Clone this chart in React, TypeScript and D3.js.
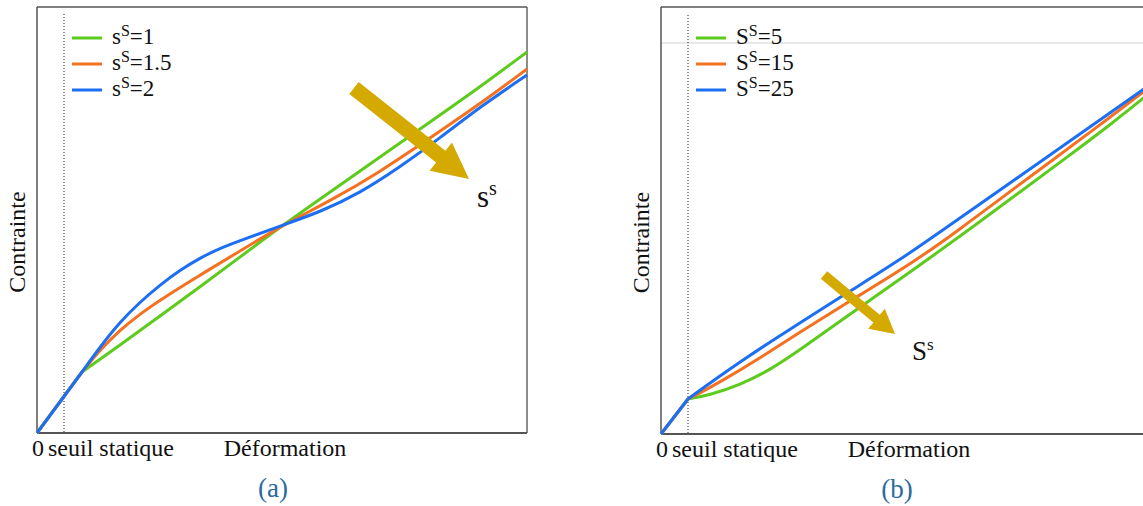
import React from "react";
import * as d3 from "d3";

type P = [number, number];

// Units: strain and stress in arbitrary units.
// Panel (a): first two points are the elastic branch (origin -> divergence), then each curve.
const aGreen: P[] = [[0,0],[45,61],[83,88],[123,117],[163,146],[203,176],[246,208],[293,241],[343,276],[393,311],[443,346],[490,381]];
const aOrange: P[] = [[0,0],[45,61],[63,83],[83,103],[103,119],[123,133],[163,158],[203,182],[246,208],[293,232],[343,261],[393,295],[443,329],[490,364]];
const aBlue: P[] = [[0,0],[45,61],[63,86],[83,111],[103,131],[123,148],[143,163],[163,175],[183,185],[213,196],[246,208],[283,221],[323,240],[363,266],[403,295],[443,326],[490,358]];
const aLabels = ["1", "1.5", "2"];

// Panel (b)
const bGreen: P[] = [[0,0],[27,35],[49,39],[79,49],[109,64],[139,84],[189,120],[239,155],[266,174],[309,205],[359,242],[409,279],[449,309],[490,342]];
const bOrange: P[] = [[0,0],[27,35],[39,41],[59,52],[96,74],[139,102],[189,133],[256,174],[299,205],[339,235],[389,272],[439,309],[490,348]];
const bBlue: P[] = [[0,0],[27,35],[39,44],[59,58],[79,72],[109,92],[139,111],[189,143],[239,174],[289,209],[339,244],[389,279],[439,314],[490,350]];
const bLabels = ["5", "15", "25"];

const threshold = 27;
const colors = ["#5ccb1c", "#f5701f", "#1c6ff2"];
const arrowColor = "#d4aa00";
const serif = "'Liberation Serif', 'Times New Roman', serif";

function Arrow({ x1, y1, x2, y2, shaft, head, headLen }: { x1: number; y1: number; x2: number; y2: number; shaft: number; head: number; headLen: number }) {
  const dx = x2 - x1, dy = y2 - y1;
  const L = Math.hypot(dx, dy);
  const ux = dx / L, uy = dy / L;
  const nx = -uy, ny = ux;
  const bx = x2 - ux * headLen, by = y2 - uy * headLen;
  const pts: P[] = [
    [x1 + nx * shaft / 2, y1 + ny * shaft / 2],
    [bx + nx * shaft / 2, by + ny * shaft / 2],
    [bx + nx * head / 2, by + ny * head / 2],
    [x2, y2],
    [bx - nx * head / 2, by - ny * head / 2],
    [bx - nx * shaft / 2, by - ny * shaft / 2],
    [x1 - nx * shaft / 2, y1 - ny * shaft / 2],
  ];
  return <polygon points={pts.map((p) => p.join(",")).join(" ")} fill={arrowColor} />;
}

function Panel({ x0, yBottom, yMax, series, labels, base, tag, arrow, arrowLabel, grayLine, frameRight }: any) {
  const x = d3.scaleLinear().domain([0, 490]).range([x0, x0 + 490]);
  const y = d3.scaleLinear().domain([0, yMax]).range([yBottom, yBottom - yMax]);
  const x1 = x(490);
  const yTop = y(yMax);
  const lin = d3.line<P>().x((d) => x(d[0])).y((d) => y(d[1]));
  const smooth = d3.line<P>().x((d) => x(d[0])).y((d) => y(d[1])).curve(d3.curveBasis);
  const pathFor = (s: P[]) => {
    const head = lin(s.slice(0, 2)) || "";
    const tail = (smooth(s.slice(1)) || "").replace(/^M[^CL]*/, "");
    return head + tail;
  };
  return (
    <g>
      {grayLine && <line x1={x0} x2={x1} y1={y(391)} y2={y(391)} stroke="#d0d0d0" strokeWidth={1.2} />}
      <line x1={x0} x2={x1} y1={yTop} y2={yTop} stroke="#555" strokeWidth={1.5} />
      {frameRight && <line x1={x1} x2={x1} y1={yTop} y2={yBottom} stroke="#666" strokeWidth={1.5} />}
      <line x1={x0} x2={x0} y1={yTop} y2={yBottom} stroke="#555" strokeWidth={1.5} />
      <line x1={x0} x2={x1} y1={yBottom} y2={yBottom} stroke="#555" strokeWidth={2} />
      <line x1={x(threshold)} x2={x(threshold)} y1={y(419)} y2={yBottom} stroke="#222" strokeWidth={1} strokeDasharray="1,2" />
      {series.map((s: P[], i: number) => (
        <path key={i} d={pathFor(s)} fill="none" stroke={colors[i]} strokeWidth={3} strokeLinejoin="round" />
      ))}
      {labels.map((l: string, i: number) => (
        <g key={i}>
          <line x1={x0 + 35} x2={x0 + 65} y1={yTop + 31 + i * 26} y2={yTop + 31 + i * 26} stroke={colors[i]} strokeWidth={3} />
          <text x={x0 + 75} y={yTop + 37 + i * 26} fontFamily={serif} fontSize={23} fill="#111">
            <tspan>{base}</tspan>
            <tspan dy={-8} fontSize={16}>S</tspan>
            <tspan dy={8}>={l}</tspan>
          </text>
        </g>
      ))}
      <Arrow x1={x(arrow[0][0])} y1={y(arrow[0][1])} x2={x(arrow[1][0])} y2={y(arrow[1][1])} shaft={arrow[2]} head={arrow[3]} headLen={arrow[4]} />
      <text x={x(arrowLabel[0])} y={y(arrowLabel[1])} fontFamily={serif} fontSize={arrowLabel[3]} fill="#111">
        <tspan>{arrowLabel[2]}</tspan>
        <tspan dy={arrowLabel[5]} fontSize={arrowLabel[4]}>s</tspan>
      </text>
      <text x={x0 - 5} y={yBottom + 23} fontFamily={serif} fontSize={24} fill="#111">0</text>
      <text x={x0 + 11} y={yBottom + 23} fontFamily={serif} fontSize={24} fill="#111">seuil statique</text>
      <text x={x0 + 248} y={yBottom + 23} fontFamily={serif} fontSize={24} textAnchor="middle" fill="#111">Déformation</text>
      <text transform={`translate(${x0 - 12},${(yTop + yBottom) / 2 + 22}) rotate(-90)`} fontFamily={serif} fontSize={24} textAnchor="middle" fill="#111">Contrainte</text>
      <text x={x0 + 236} y={yBottom + 64} fontFamily={serif} fontSize={27} textAnchor="middle" fill="#2b6a9e">{tag}</text>
    </g>
  );
}

export default function App() {
  return (
    <svg width={1143} height={506} style={{ position: "absolute", left: 0, top: 0, background: "#fff" }}>
      <Panel x0={37} yBottom={433} yMax={426} series={[aGreen, aOrange, aBlue]} labels={aLabels} base="s" tag="(a)"
        arrow={[[317, 345], [432, 254], 15, 36, 36]} arrowLabel={[440, 226, "s", 31, 20, -12]} grayLine={false} frameRight={true} />
      <Panel x0={661} yBottom={434} yMax={427} series={[bGreen, bOrange, bBlue]} labels={bLabels} base="S" tag="(b)"
        arrow={[[163, 159], [234, 100], 10, 26, 24]} arrowLabel={[251, 74, "S", 27, 17, -10]} grayLine={true} frameRight={false} />
    </svg>
  );
}
